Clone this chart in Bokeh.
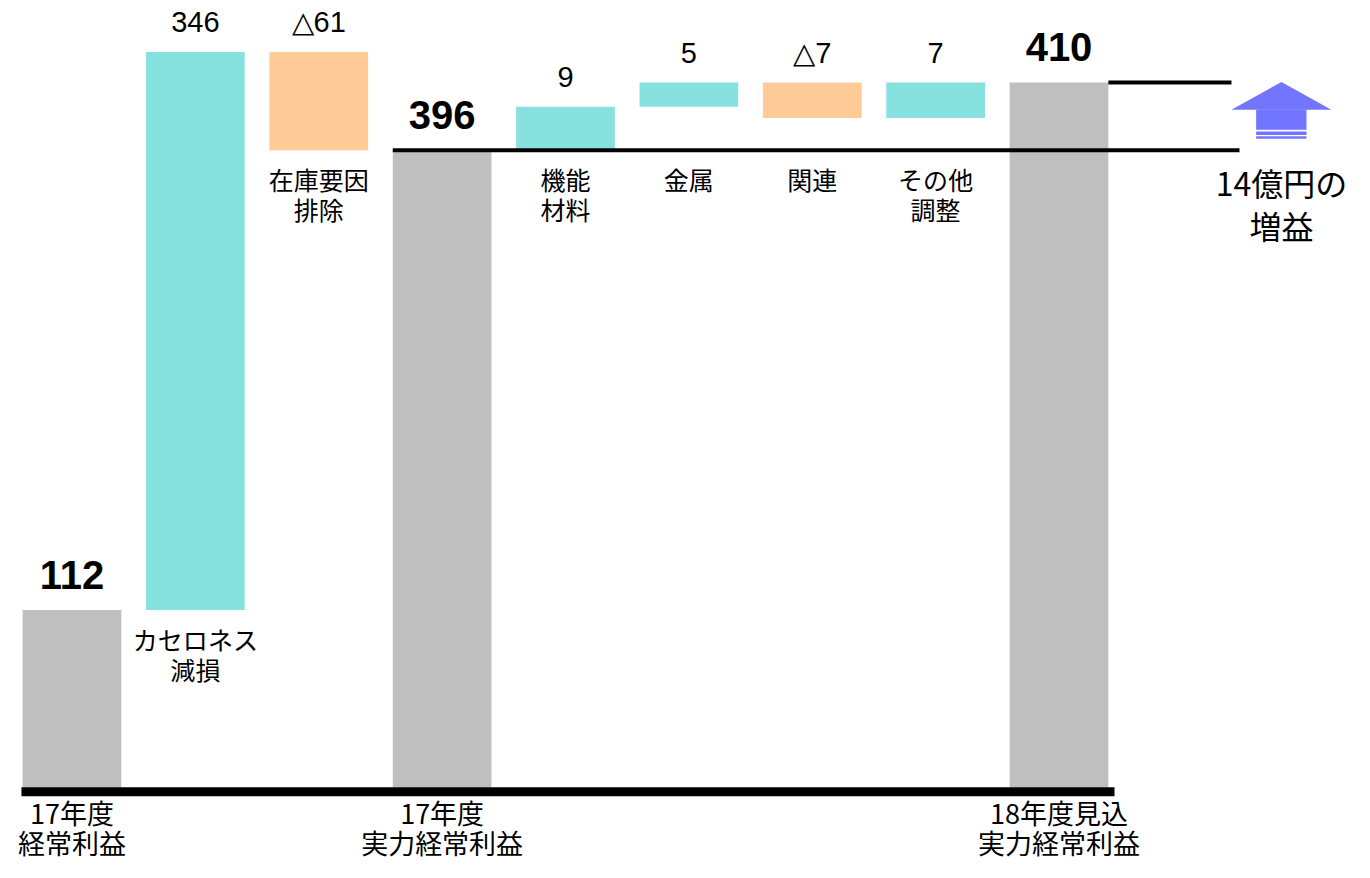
from bokeh.plotting import figure
from bokeh.models import Range1d
from bokeh.core.properties import value
from bokeh.embed import file_html
from bokeh.resources import INLINE

# ---------------- data ----------------
categories = ["17年度\n経常利益", "カセロネス\n減損", "在庫要因\n排除", "17年度\n実力経常利益",
              "機能\n材料", "金属", "関連", "その他\n調整", "18年度見込\n実力経常利益"]
value_labels = ["112", "346", "△61", "396", "9", "5", "△7", "7", "410"]
kinds = ["total", "up", "down", "total", "up", "up", "down", "up", "total"]
# drawn extents of each bar, as they appear in the picture (units)
bar_base = [0, 110, 395, 0, 395, 422, 415, 415, 0]
bar_top = [110, 456, 456, 395, 422, 437, 437, 437, 437]
level_1 = 395      # 17年度 実力経常利益 level line
level_2 = 437      # 18年度見込 level line
gain_label = "14億円の\n増益"

# ---------------- styles ----------------
COLORS = {"total": "#BFBFBF", "up": "#86E1DF", "down": "#FFCB99"}
JP = value("Noto Sans CJK JP")
NUM = value("Liberation Sans")

PX_CAT = 123.375      # px per category
PX_UNIT = 1.613       # px per unit
W, H = 1354, 862
x0 = -71.5 / PX_CAT
x1 = x0 + W / PX_CAT
y1 = 787 / PX_UNIT
y0 = y1 - H / PX_UNIT

p = figure(width=W, height=H, x_range=Range1d(x0, x1), y_range=Range1d(y0, y1),
           output_backend="svg", toolbar_location=None,
           x_axis_location=None, y_axis_location=None, min_border=0,
           outline_line_color=None, background_fill_color="white",
           border_fill_color="white")
p.grid.grid_line_color = None

xs = list(range(len(categories)))
colors = [COLORS[k] for k in kinds]

p.vbar(x=xs, width=0.8, bottom=bar_base, top=bar_top, fill_color=colors, line_color=None)

# level lines
i_mid = kinds.index("total", 1)
i_last = len(categories) - 1
ax = i_last + 1.803   # arrow centre
p.segment(x0=[i_mid - 0.4], y0=[level_1], x1=[ax - 0.34], y1=[level_1],
          line_color="black", line_width=4)
p.segment(x0=[i_last + 0.4], y0=[level_2], x1=[ax - 0.405], y1=[level_2],
          line_color="black", line_width=4)
# baseline
p.segment(x0=[-0.41], y0=[-2.7], x1=[i_last + 0.45], y1=[-2.7],
          line_color="black", line_width=9)

# arrow
p.patch(x=[ax - 0.405, ax + 0.0, ax + 0.405], y=[420.2, 437.4, 420.2],
        fill_color="#7276FF", line_color=None)
p.quad(left=[ax - 0.205] * 3, right=[ax + 0.203] * 3,
       top=[420.4, 406.7, 403.7], bottom=[407.8, 404.6, 402.2],
       fill_color="#7276FF", line_color=None)

# value labels
for bold in (True, False):
    idx = [i for i in xs if (kinds[i] == "total") == bold]
    p.text(x=idx, y=[bar_top[i] for i in idx],
           text=[value_labels[i] for i in idx], y_offset=-35.5 if bold else -29.5,
           text_align="center", text_baseline="alphabetic",
           text_font=NUM, text_font_size="40px" if bold else "29px",
           text_font_style="bold" if bold else "normal", text_color="black")

# category labels
tx, ty, tt, to = [], [], [], []
bx, by, bt, bo = [], [], [], []
for i, lab in enumerate(categories):
    for li, line in enumerate(lab.split("\n")):
        if kinds[i] == "total":
            bx.append(i); by.append(0); bt.append(line); bo.append(25 + 30 * li)
        else:
            tx.append(i); ty.append(min(bar_base[i], level_1)); tt.append(line); to.append(28.5 + 30 * li)
p.text(x=bx, y=by, text=bt, y_offset=bo, text_align="center", text_baseline="alphabetic",
       text_font=JP, text_font_size="27px", text_color="black")
p.text(x=tx, y=ty, text=tt, y_offset=to, text_align="center", text_baseline="alphabetic",
       text_font=JP, text_font_size="25px", text_color="black")

gl = gain_label.split("\n")
p.text(x=[ax + 0.0] * len(gl), y=[level_1] * len(gl), text=gl,
       y_offset=[32 + 43 * k for k in range(len(gl))],
       text_align="center", text_baseline="alphabetic",
       text_font=JP, text_font_size="32px", text_color="black")

open("out.html", "w").write(file_html(p, INLINE))
